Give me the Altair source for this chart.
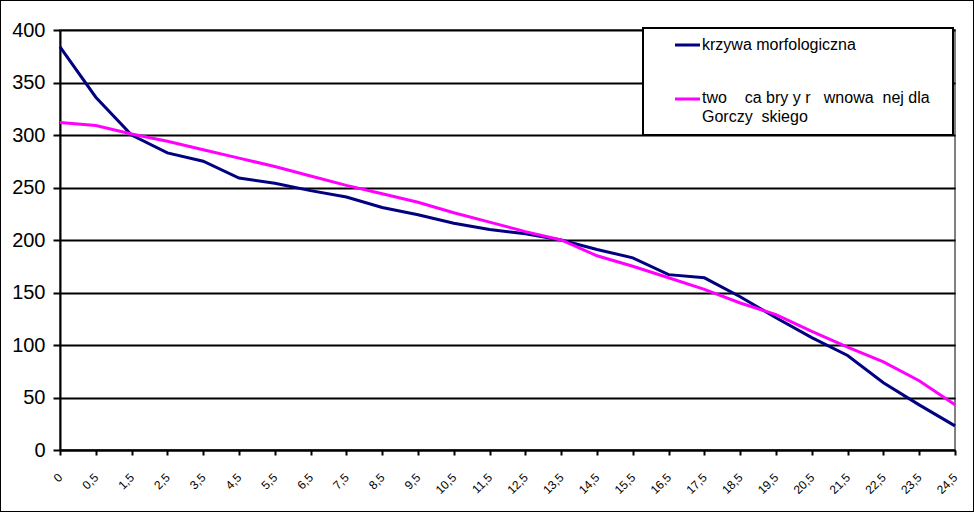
import altair as alt
import pandas as pd

NB = "\u00a0"

x_labels = ["0", "0,5", "1,5", "2,5", "3,5", "4,5", "5,5", "6,5", "7,5", "8,5",
            "9,5", "10,5", "11,5", "12,5", "13,5", "14,5", "15,5", "16,5", "17,5",
            "18,5", "19,5", "20,5", "21,5", "22,5", "23,5", "24,5"]

krzywa = [384, 336, 300, 283, 275, 259, 254, 247, 241, 231,
          224, 216, 210, 206, 200, 191, 183, 167, 164, 146,
          126, 107, 90, 64, 43, 23]

tworzaca = [312, 309, 301, 294, 286, 278, 270, 261, 252, 244,
            236, 226, 217, 208, 200, 185, 175, 164, 153, 140,
            129, 113, 98, 84, 66, 43]

series_names = ["krzywa morfologiczna", "tworzaca"]
legend_line1 = "krzywa morfologiczna"
legend_line2 = ["two" + NB * 4 + "ca bry y r" + NB * 3 + "wnowa" + NB * 2 + "nej dla",
                "Gorczy" + NB * 2 + "skiego"]
colors = ["#000080", "#FF00FF"]

rows = []
for i, lab in enumerate(x_labels):
    rows.append({"x": lab, "order": i, "value": krzywa[i], "series": series_names[0]})
for i, lab in enumerate(x_labels):
    rows.append({"x": lab, "order": i, "value": tworzaca[i], "series": series_names[1]})
df = pd.DataFrame(rows)

FONT = "Liberation Sans"

x_enc = alt.X(
    "x:O", sort=x_labels,
    scale=alt.Scale(type="point", padding=0),
    axis=alt.Axis(title=None, labelAngle=-45, labelAlign="right", labelBaseline="middle",
                  labelPadding=20, labelFontSize=12, labelFont=FONT, labelColor="black",
                  labelOverlap=False, tickColor="black", tickSize=5, tickWidth=2,
                  domainColor="black", domainWidth=2, grid=False),
)
y_enc = alt.Y(
    "value:Q",
    scale=alt.Scale(domain=[0, 400], nice=False),
    axis=alt.Axis(title=None, values=[0, 50, 100, 150, 200, 250, 300, 350, 400],
                  grid=True, gridColor="black", gridWidth=2,
                  domainColor="black", domainWidth=2, tickColor="black", tickSize=7, tickWidth=2,
                  labelFontSize=20, labelFont=FONT, labelColor="black", labelPadding=8),
)

lines = alt.Chart(df).mark_line(strokeWidth=3, interpolate="linear").encode(
    x=x_enc,
    y=y_enc,
    color=alt.Color("series:N", scale=alt.Scale(domain=series_names, range=colors), legend=None),
    order=alt.Order("order:Q"),
    detail="series:N",
)

one = alt.Data(values=[{}])

frame = alt.Chart(one).mark_rect(fillOpacity=0, stroke="black", strokeWidth=2).encode(
    x=alt.value(-60), x2=alt.value(914), y=alt.value(-30), y2=alt.value(482)
)

legend_box = alt.Chart(one).mark_rect(fill="white", stroke="black", strokeWidth=2).encode(
    x=alt.value(583), x2=alt.value(893), y=alt.value(-2), y2=alt.value(105)
)
rule1 = alt.Chart(one).mark_rule(color=colors[0], strokeWidth=3).encode(
    x=alt.value(615), x2=alt.value(640), y=alt.value(15)
)
rule2 = alt.Chart(one).mark_rule(color=colors[1], strokeWidth=3).encode(
    x=alt.value(615), x2=alt.value(640), y=alt.value(69)
)
text1 = alt.Chart(one).mark_text(align="left", baseline="middle", fontSize=16, font=FONT,
                                 color="black").encode(
    x=alt.value(642), y=alt.value(15), text=alt.value(legend_line1)
)
text2 = alt.Chart(one).mark_text(align="left", baseline="top", fontSize=16, font=FONT,
                                 color="black", lineHeight=19).encode(
    x=alt.value(642), y=alt.value(60), text=alt.value(legend_line2)
)

chart = alt.layer(lines, legend_box, rule1, rule2, text1, text2, frame).properties(
    width=895, height=420,
    autosize=alt.AutoSizeParams(type="none"),
    padding={"left": 60, "top": 30, "right": 19, "bottom": 62},
    background="white",
).configure_view(stroke="#808080", strokeWidth=2)

chart.save("out.html", embed_options={"renderer": "svg", "actions": False})
